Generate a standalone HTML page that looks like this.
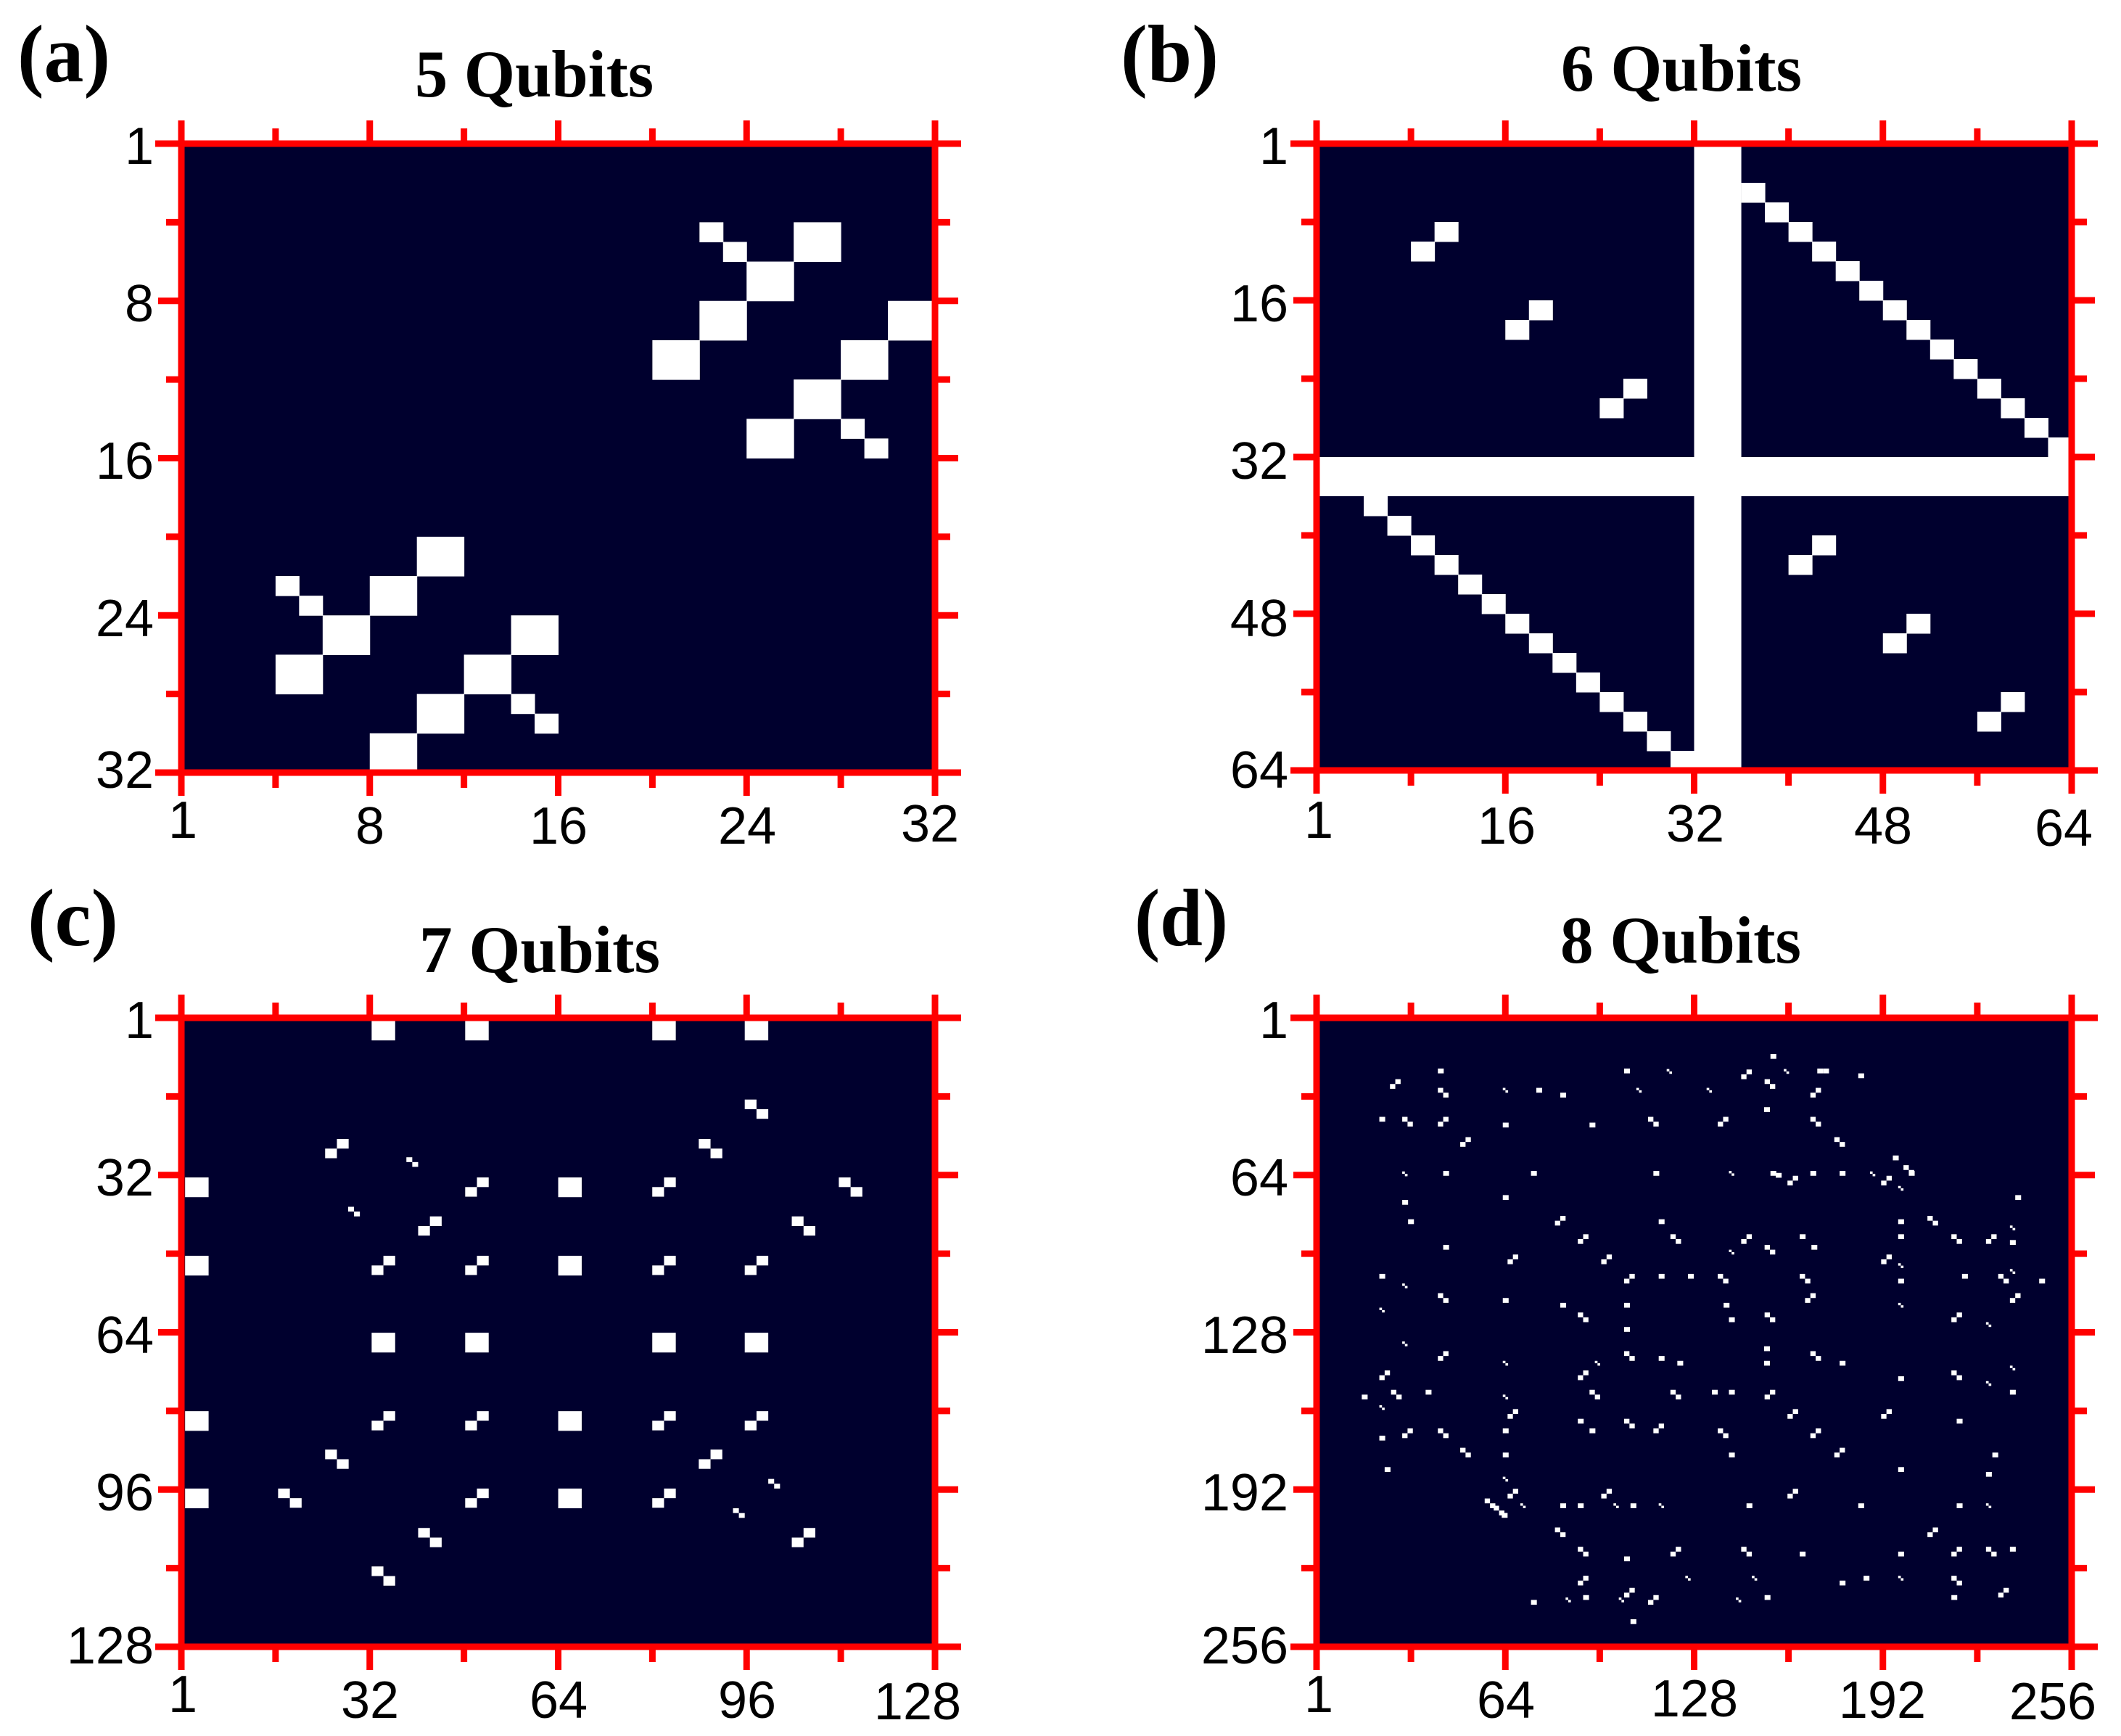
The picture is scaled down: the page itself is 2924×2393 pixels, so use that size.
<!DOCTYPE html>
<html><head><meta charset="utf-8"><style>
html,body{margin:0;padding:0;background:#fff}
svg{display:block}
.t{font-family:"Liberation Serif",serif;font-weight:bold;fill:#000}
.n{font-family:"Liberation Sans",sans-serif;font-size:72px;fill:#000}
</style></head><body>
<svg id="s" xmlns="http://www.w3.org/2000/svg" width="2924" height="2393" viewBox="0 0 2924 2393">
<rect width="2924" height="2393" fill="#fff"/>
<text class="t" x="24" y="112" font-size="112" textLength="128" lengthAdjust="spacingAndGlyphs">(a)</text>
<text class="t" x="572" y="133" font-size="92" textLength="329" lengthAdjust="spacingAndGlyphs">5 Qubits</text>
<text class="t" x="1545" y="112" font-size="112" textLength="135" lengthAdjust="spacingAndGlyphs">(b)</text>
<text class="t" x="2152" y="125" font-size="92" textLength="332" lengthAdjust="spacingAndGlyphs">6 Qubits</text>
<text class="t" x="38" y="1303" font-size="112" textLength="125" lengthAdjust="spacingAndGlyphs">(c)</text>
<text class="t" x="578" y="1340" font-size="92" textLength="332" lengthAdjust="spacingAndGlyphs">7 Qubits</text>
<text class="t" x="1564" y="1303" font-size="112" textLength="129" lengthAdjust="spacingAndGlyphs">(d)</text>
<text class="t" x="2151" y="1327" font-size="92" textLength="332" lengthAdjust="spacingAndGlyphs">8 Qubits</text>
<g id="g"></g>
<g class="n" text-anchor="end">
<text x="212" y="226">1</text><text x="212" y="443">8</text><text x="212" y="660">16</text><text x="212" y="877">24</text><text x="212" y="1086">32</text>
<text x="1776" y="226">1</text><text x="1776" y="443">16</text><text x="1776" y="660">32</text><text x="1776" y="877">48</text><text x="1776" y="1086">64</text>
<text x="212" y="1431">1</text><text x="212" y="1648">32</text><text x="212" y="1865">64</text><text x="212" y="2082">96</text><text x="212" y="2293">128</text>
<text x="1776" y="1431">1</text><text x="1776" y="1648">64</text><text x="1776" y="1865">128</text><text x="1776" y="2082">192</text><text x="1776" y="2293">256</text>
</g>
<g class="n" text-anchor="middle">
<text x="252" y="1155">1</text><text x="510" y="1163">8</text><text x="770" y="1163">16</text><text x="1030" y="1163">24</text><text x="1282" y="1160">32</text>
<text x="1818" y="1155">1</text><text x="2077" y="1163">16</text><text x="2337" y="1160">32</text><text x="2596" y="1163">48</text><text x="2845" y="1166">64</text>
<text x="252" y="2360">1</text><text x="510" y="2368">32</text><text x="770" y="2368">64</text><text x="1030" y="2368">96</text><text x="1265" y="2370">128</text>
<text x="1818" y="2360">1</text><text x="2076" y="2368">64</text><text x="2336" y="2366">128</text><text x="2595" y="2368">192</text><text x="2830" y="2370">256</text>
</g>
</svg>
<script>
var NS="http://www.w3.org/2000/svg",G=document.getElementById("g");
function R(p,x,y,w,h,c){var r=document.createElementNS(NS,"rect");r.setAttribute("x",x);r.setAttribute("y",y);r.setAttribute("width",w);r.setAttribute("height",h);r.setAttribute("fill",c);p.appendChild(r);return r;}
function L(x1,y1,x2,y2){var l=document.createElementNS(NS,"line");l.setAttribute("x1",x1);l.setAttribute("y1",y1);l.setAttribute("x2",x2);l.setAttribute("y2",y2);l.setAttribute("stroke","#ff0000");l.setAttribute("stroke-width",9);G.appendChild(l);}
var P=[[250,198,1289,1065],[1815,198,2856,1062],[250,1403,1289,2270],[1815,1403,2856,2270]];
var W="#fff",BG="#00002e";
P.forEach(function(p){R(G,p[0],p[1],p[2]-p[0],p[3]-p[1],BG);});
// panel a cells
function cells(p,n,list){var cw=(p[2]-p[0])/n,ch=(p[3]-p[1])/n;list.forEach(function(c){R(G,p[0]+c[0]*cw,p[1]+c[1]*ch,(c[2]||1)*cw+0.5,(c[2]||1)*ch+0.5,W);});}
cells(P[0],32,[[22,4],[23,5],[26,4,2],[24,6,2],[22,8,2],[20,10,2],[30,8,2],[28,10,2],[26,12,2],[24,14,2],[28,14],[29,15],
[10,20,2],[4,22],[5,23],[8,22,2],[6,24,2],[4,26,2],[14,24,2],[12,26,2],[10,28,2],[8,30,2],[14,28],[15,29]]);
// panel b
var b=[];
for(var i=0;i<14;i++){b.push([36+2*i,4+2*i,2]);b.push([4+2*i,36+2*i,2]);}
[[10,8],[18,16],[26,24],[42,40],[50,48],[58,56]].forEach(function(q){b.push([q[0],q[1],2]);b.push([q[1],q[0],2]);});
cells(P[1],64,b);
(function(){var p=P[1],cw=(p[2]-p[0])/64,ch=(p[3]-p[1])/64;R(G,p[0]+32*cw,p[1],4*cw,p[3]-p[1],W);R(G,p[0],p[1]+32*ch,p[2]-p[0],4*ch,W);})();
// panel c (zoom coords)
function grp(tx,ty,sx,sy){var g=document.createElementNS(NS,"g");g.setAttribute("transform","translate("+tx+","+ty+") scale("+sx+","+sy+")");G.appendChild(g);return g;}
var gc=grp(199.9,1358.6,0.7369,0.6628);
[[424,73],[599,73],[949,73],[1122,73],[75,399],[773,399],[75,562],[773,562],[424,722],[599,722],[949,722],[1122,722],[75,885],[773,885],[75,1046],[773,1046]].forEach(function(q){R(gc,q[0],q[1],44,41,W);});
function F(g,x,y,s,sy){R(g,x+s,y,s,sy,W);R(g,x,y+sy,s,sy,W);}
function B(g,x,y,s,sy){R(g,x,y,s,sy,W);R(g,x+s,y+sy,s,sy,W);}
[[337,319],[599,399],[949,399],[511,480],[424,562],[599,562],[949,562],[1122,562],[424,885],[599,885],[949,885],[1122,885],[1036,965],[599,1046],[949,1046],[1210,1128]].forEach(function(q){F(gc,q[0],q[1],22,20);});
[[1122,237],[1036,319],[1298,399],[1210,480],[337,965],[249,1046],[511,1128],[424,1208]].forEach(function(q){B(gc,q[0],q[1],22,20);});
[[489,357],[380,460],[1166,1026],[1100,1087]].forEach(function(q){B(gc,q[0],q[1],11,10);});
// panel d
var gd=grp(1780.5,1356.4,0.7336,0.6659);
var S=[[900,145],[275,175],[625,175],[988,175],[999,175],[1065,185],[460,215],[505,225],[888,255],[165,275],[397,287],[560,287],[1130,355],[285,387],[450,387],[680,387],[900,387],[910,391],[975,387],[1030,387],[1160,387],[397,437],[1360,437],[208,447],[690,487],[219,487],[1140,487],[955,518],[977,540],[1140,518],[1350,530],[285,540],[165,600],[690,600],[745,600],[1140,610],[1260,600],[1405,610],[397,650],[505,660],[625,660],[812,660],[822,690],[625,710],[888,750],[690,770],[725,780],[888,780],[1030,780],[1140,812],[132,850],[252,840],[790,840],[822,840],[1350,840],[538,900],[1250,900],[397,920],[560,920],[165,935],[397,970],[822,970],[1317,970],[175,1000],[1140,1000],[1305,1010],[395,1095],[505,1075],[538,1075],[637,1075],[855,1075],[1065,1075],[1250,1075],[955,1175],[1140,1175],[1350,1165],[625,1185],[1030,1235],[1075,1225],[450,1275],[548,1265],[889,1265],[1240,1265],[637,1315]];
S.forEach(function(q){R(gd,q[0],q[1],11,10,W);});
var Fd=[[845,177],[185,197],[975,215],[275,275],[801,275],[317,317],[932,397],[1108,397],[495,480],[538,518],[845,518],[1305,518],[406,560],[582,560],[1108,560],[625,600],[1350,640],[965,640],[1240,680],[275,760],[165,800],[538,800],[889,840],[406,880],[932,880],[1108,880],[680,910],[208,920],[975,920],[1020,960],[406,1045],[582,1045],[932,1045],[1195,1125],[712,1165],[1240,1165],[538,1225],[625,1250],[1328,1250],[670,1265]];
Fd.forEach(function(q){F(gd,q[0],q[1],10,10);});
var Bd=[[889,197],[275,215],[208,275],[670,275],[975,275],[1020,317],[1150,375],[1195,480],[712,518],[1240,518],[889,540],[801,600],[955,600],[1328,600],[275,640],[538,680],[889,680],[625,760],[975,760],[1240,800],[187,840],[560,840],[712,840],[625,900],[275,920],[801,920],[317,960],[363,1065],[380,1080],[495,1125],[538,1165],[845,1165],[1305,1165],[1240,1225]];
Bd.forEach(function(q){B(gd,q[0],q[1],10,10);});
var Td=[[705,176],[925,176],[397,215],[648,215],[780,215],[208,388],[822,387],[1087,388],[1140,418],[1350,500],[822,550],[1140,578],[1350,590],[208,620],[1140,660],[165,670],[1305,700],[208,740],[397,780],[570,780],[1350,790],[1305,822],[397,850],[165,872],[397,1020],[430,1075],[605,1075],[690,1075],[1305,1075],[740,1225],[865,1225],[1140,1225],[515,1270],[615,1270],[835,1270]];
Td.forEach(function(q){B(gd,q[0],q[1],5,5);});
// frames and ticks
P.forEach(function(p){
 var x0=p[0],y0=p[1],x1=p[2],y1=p[3];
 L(x0-36,y0,x1+36,y0);L(x0-36,y1,x1+36,y1);L(x0,y0-2,x0,y1+2);L(x1,y0-2,x1,y1+2);
 for(var k=0;k<=8;k++){var f=k/8,len=(k%2==0)?32:21;
  var x=x0+f*(x1-x0),y=y0+f*(y1-y0);
  L(x,y0,x,y0-len);L(x,y1,x,y1+len);
  if(k>0&&k<8){L(x0,y,x0-len,y);L(x1,y,x1+len,y);}
 }
});
</script>
</body></html>
